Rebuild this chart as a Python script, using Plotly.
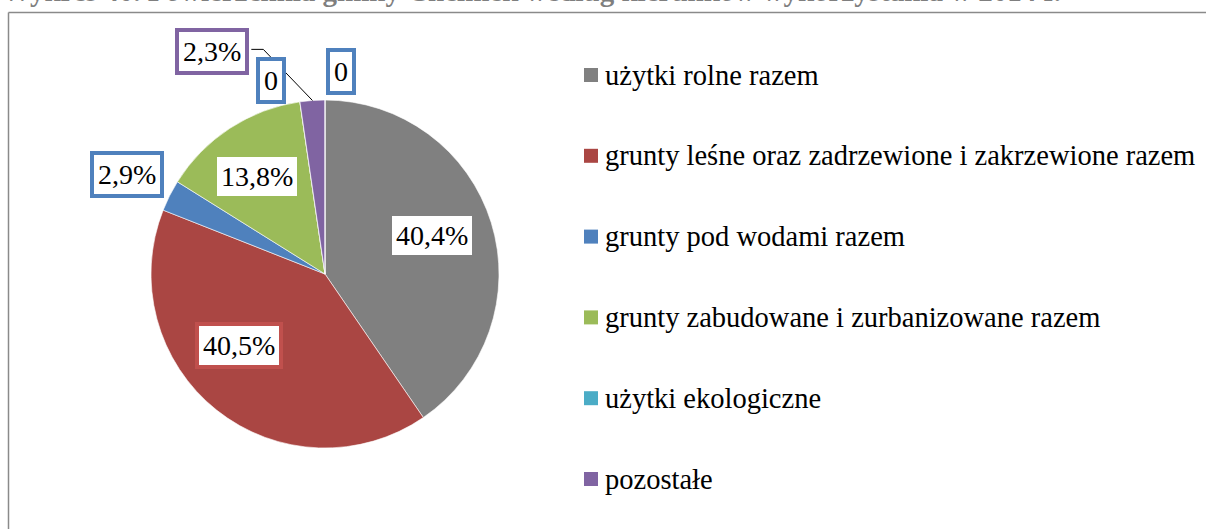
import math
import plotly.graph_objects as go

# Land-use shares of the commune area (percent)
categories = [
    "użytki rolne razem",
    "grunty leśne oraz zadrzewione i zakrzewione razem",
    "grunty pod wodami razem",
    "grunty zabudowane i zurbanizowane razem",
    "użytki ekologiczne",
    "pozostałe",
    "",
]
shares = [40.4, 40.5, 2.9, 13.8, 0, 2.3, 0]
slice_colors = ["#808080", "#AA4643", "#4F81BD", "#9BBB59", "#4BACC6", "#8064A2", "#4F81BD"]
legend_colors = ["#808080", "#AA4643", "#4F81BD", "#9BBB59", "#4BACC6", "#8064A2"]
title_text = "Wykres 40. Powierzchnia gminy Chełmek według kierunków wykorzystania w 2014 r."

# label styling / placement: (radius factor, angular offset in degrees, border colour)
label_place = [
    (0.656, -2.5, "#808080"),
    (0.643, 12.0, "#C0504D"),
    (1.274, 0.0, "#4F81BD"),
    (0.682, -1.7, "#9BBB59"),
    (1.152, -7.2, "#4F81BD"),
    (1.434, -22.7, "#8064A2"),
    (1.170, 4.4, "#4F81BD"),
]

W, H = 1206, 529
CX, CY, R = 325, 274, 174
SERIF = "Liberation Serif"


def px(x):
    return x / W


def py(y):
    return 1 - y / H


def fmt(v):
    if v == 0:
        return "0"
    return f"{v:.1f}".replace(".", ",") + "%"


fig = go.Figure()
fig.add_trace(go.Pie(
    labels=[c if c else " " for c in categories],
    values=shares,
    sort=False,
    direction="clockwise",
    rotation=0,
    marker=dict(colors=slice_colors, line=dict(color="#FFFFFF", width=0.6)),
    textinfo="none",
    textposition="none",
    hoverinfo="label+percent",
    domain=dict(x=[px(CX - R), px(CX + R)], y=[py(CY + R), py(CY - R)]),
    showlegend=False,
))

annotations = []
shapes = []

# data labels around / inside the slices
total = sum(shares)
cum = 0.0
for v, (rf, dth, bc) in zip(shares, label_place):
    mid = (cum + v / 2) / total * 360.0
    cum += v
    ang = math.radians(mid + dth)
    lx = CX + rf * R * math.sin(ang)
    ly = CY - rf * R * math.cos(ang)
    annotations.append(dict(
        x=px(lx), y=py(ly), xref="paper", yref="paper",
        text=fmt(v), showarrow=False,
        font=dict(family=SERIF, size=28, color="#000000"),
        bgcolor="#FFFFFF", bordercolor=bc, borderwidth=4, borderpad=4,
        xanchor="center", yanchor="middle",
    ))
    if v == shares[5] and rf > 1.3:
        # leader line from the label to the slice edge
        ea = math.radians(mid)
        ex = CX + R * math.sin(ea)
        ey = CY - R * math.cos(ea)
        bx = lx + 39
        path = (f"M {px(bx)},{py(ly - 2)} L {px(bx + 12)},{py(ly - 2)} "
                f"L {px(ex)},{py(ey)}")
        shapes.append(dict(type="path", xref="paper", yref="paper", path=path,
                           line=dict(color="#000000", width=1)))

# legend drawn as coloured squares with text
leg_top, leg_step = 75, 80.8
for i, (name, col) in enumerate(zip(categories[:6], legend_colors)):
    yc = leg_top + i * leg_step
    shapes.append(dict(type="rect", xref="paper", yref="paper",
                       x0=px(584), x1=px(598), y0=py(yc + 7), y1=py(yc - 7),
                       fillcolor=col, line=dict(width=0)))
    annotations.append(dict(
        x=px(603), y=py(yc), xref="paper", yref="paper", text=name,
        showarrow=False, xanchor="left", yanchor="middle",
        font=dict(family=SERIF, size=28.5, color="#000000"),
    ))

# chart frame (top and left edges visible)
shapes.append(dict(type="line", xref="paper", yref="paper",
                   x0=px(8.5), x1=1, y0=py(12.5), y1=py(12.5),
                   line=dict(color="#8A8A8A", width=1.5)))
shapes.append(dict(type="line", xref="paper", yref="paper",
                   x0=px(8.5), x1=px(8.5), y0=py(12.5), y1=0,
                   line=dict(color="#8A8A8A", width=1.5)))

# caption above the frame
annotations.append(dict(
    x=px(0), y=py(-9), xref="paper", yref="paper", text=f"<b>{title_text}</b>",
    showarrow=False, xanchor="left", yanchor="middle",
    font=dict(family=SERIF, size=29, color="#7F7F7F"),
))

fig.update_layout(
    width=W, height=H,
    margin=dict(l=0, r=0, t=0, b=0),
    paper_bgcolor="#FFFFFF", plot_bgcolor="#FFFFFF",
    annotations=annotations, shapes=shapes,
    showlegend=False,
)

fig.write_html("out.html")
